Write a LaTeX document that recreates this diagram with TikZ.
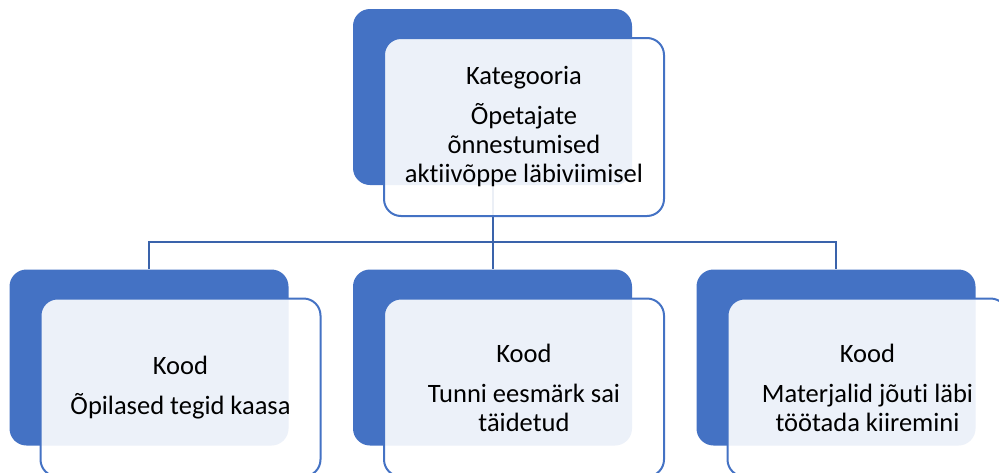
\documentclass[tikz,border=0pt]{standalone}
\usepackage{fontspec}
\setmainfont{Carlito}[Ligatures={NoCommon}]
\usepackage{tikz}
\usetikzlibrary{positioning, backgrounds}
\definecolor{accent}{HTML}{4472C4}
\definecolor{linkblue}{HTML}{3A63AB}
\tikzstyle{backbox} = [rectangle, rounded corners=17pt, minimum width=279pt,
minimum height=176pt, inner sep=0pt, draw=none, fill=accent]
\tikzstyle{textbox} = [rectangle, rounded corners=17pt, minimum width=280pt,
minimum height=178pt, inner sep=0pt, draw=accent, line width=2pt, fill=white,
fill opacity=0.9, text opacity=1, align=center,
font=\fontsize{26.5}{29}\selectfont]
\tikzstyle{link} = [draw=linkblue, line width=2pt]

\begin{document}
\begin{tikzpicture}[x=1pt, y=-1pt, node distance=343.5pt]
\clip (0,0) rectangle (999,472);
\useasboundingbox (0,0) rectangle (999,472);

\node(katBack)[backbox] at (492.5,97){};
\node(kat)[textbox] at ([xshift=31.5pt, yshift=-30pt]katBack.center){Kategooria\\[11pt]
Õpetajate\\õnnestumised\\aktiivõppe läbiviimisel};

\node(koodBBack)[backbox] at (492.5,357.5){};
\node(koodABack)[backbox, left of=koodBBack]{};
\node(koodCBack)[backbox, right of=koodBBack]{};

\node(koodA)[textbox] at ([xshift=31.5pt, yshift=-30pt]koodABack.center){Kood\\[11pt]
Õpilased tegid kaasa};
\node(koodB)[textbox] at ([xshift=31.5pt, yshift=-30pt]koodBBack.center){Kood\\[11pt]
Tunni eesmärk sai\\täidetud};
\node(koodC)[textbox] at ([xshift=31.5pt, yshift=-30pt]koodCBack.center){Kood\\[11pt]
Materjalid jõuti läbi\\töötada kiiremini};

\coordinate(bus) at (492.5,242);

\begin{scope}[on background layer]
\draw[link](katBack.south) -- (koodBBack.north);
\draw[link](bus) -| (koodABack.north);
\draw[link](bus) -| (koodCBack.north);
\end{scope}

\end{tikzpicture}
\end{document}
